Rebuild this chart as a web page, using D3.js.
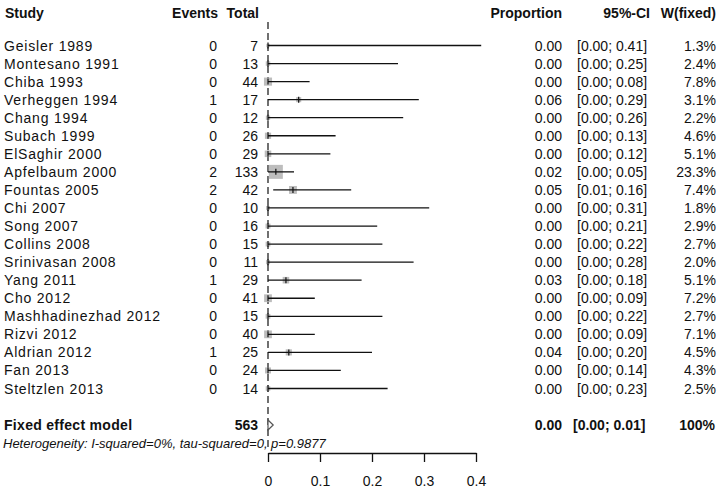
<!DOCTYPE html>
<html><head><meta charset="utf-8">
<script src="https://cdn.jsdelivr.net/npm/d3@7"></script>
<style>
html,body{margin:0;padding:0;background:#fff;}
svg{display:block;font-family:"Liberation Sans",Arial,sans-serif;}
</style></head>
<body><svg id="c" width="722" height="491"></svg>
<script>
const studies = ["Geisler 1989","Montesano 1991","Chiba 1993","Verheggen 1994","Chang 1994","Subach 1999","ElSaghir 2000","Apfelbaum 2000","Fountas 2005","Chi 2007","Song 2007","Collins 2008","Srinivasan 2008","Yang 2011","Cho 2012","Mashhadinezhad 2012","Rizvi 2012","Aldrian 2012","Fan 2013","Steltzlen 2013"];
const events = [0,0,0,1,0,0,0,2,2,0,0,0,0,1,0,0,0,1,0,0];
const totals = [7,13,44,17,12,26,29,133,42,10,16,15,11,29,41,15,40,25,24,14];
const proportion = [0,0,0,0.059,0,0,0,0.0151,0.048,0,0,0,0,0.0345,0,0,0,0.04,0,0];
const ciLower = [0,0,0,0,0,0,0,0,0.01,0,0,0,0,0,0,0,0,0,0,0];
const ciUpper = [0.41,0.25,0.08,0.29,0.26,0.13,0.12,0.05,0.16,0.31,0.21,0.22,0.28,0.18,0.09,0.22,0.09,0.20,0.14,0.23];
const weights = [1.3,2.4,7.8,3.1,2.2,4.6,5.1,23.3,7.4,1.8,2.9,2.7,2.0,5.1,7.2,2.7,7.1,4.5,4.3,2.5];
const pooled = {label:"Fixed effect model", total:563, est:0.00, lo:0.00, hi:0.01, w:"100%"};
const heterogeneity = "Heterogeneity: I-squared=0%, tau-squared=0, p=0.9877";
const tickValues = [0,0.1,0.2,0.3,0.4];
const tickLabels = ["0","0.1","0.2","0.3","0.4"];

const svg = d3.select("#c");
const x = d3.scaleLinear().domain([0,0.4]).range([268,476]);
const y = d3.scalePoint().domain(d3.range(studies.length)).range([45.5,388.5]);
const side = d3.scaleSqrt().domain([0,23.3]).range([0,14]);
const f2 = d3.format(".2f");
const fs = 14;

function txt(xp, yp, s, anchor, opts={}) {
  const t = svg.append("text").attr("x",xp).attr("y",yp).attr("dy","0.36em")
    .attr("text-anchor",anchor).attr("font-size",opts.size||fs)
    .attr("font-weight",opts.bold?"bold":"normal")
    .attr("font-style",opts.italic?"italic":"normal")
    .attr("fill","#111").text(s);
  if (opts.ls) t.attr("letter-spacing",opts.ls);
  return t;
}

// headers
const hy = 13;
txt(5,hy,"Study","start",{bold:true});
txt(218,hy,"Events","end",{bold:true});
txt(259,hy,"Total","end",{bold:true});
txt(562,hy,"Proportion","end",{bold:true});
txt(650,hy,"95%-CI","end",{bold:true});
txt(716,hy,"W(fixed)","end",{bold:true});

// dashed reference line at pooled estimate
svg.append("line").attr("x1",x(pooled.est)).attr("x2",x(pooled.est))
  .attr("y1",22).attr("y2",448).attr("stroke","#111").attr("stroke-width",1.2)
  .attr("stroke-dasharray","7,4");

// rows
studies.forEach((s,i)=>{
  const yy = y(i);
  txt(4,yy,s,"start",{ls:0.8});
  txt(217,yy,events[i],"end");
  txt(258,yy,totals[i],"end");
  txt(562,yy,f2(proportion[i]),"end");
  txt(577,yy,"["+f2(ciLower[i])+"; "+f2(ciUpper[i])+"]","start");
  txt(716,yy,weights[i].toFixed(1)+"%","end");
  const sd = side(weights[i]);
  svg.append("rect").attr("x",x(proportion[i])-sd/2).attr("y",yy-sd/2)
    .attr("width",sd).attr("height",sd).attr("fill","#bdbdbd");
  svg.append("line").attr("x1",x(ciLower[i])).attr("x2",x(ciUpper[i]))
    .attr("y1",yy).attr("y2",yy).attr("stroke","#111").attr("stroke-width",1.3);
  svg.append("line").attr("x1",x(proportion[i])).attr("x2",x(proportion[i]))
    .attr("y1",yy-3).attr("y2",yy+3).attr("stroke","#111").attr("stroke-width",1.2);
});

// pooled row
const py = 425;
txt(4,py,pooled.label,"start",{bold:true,ls:0.3});
txt(258,py,pooled.total,"end",{bold:true});
txt(562,py,f2(pooled.est),"end",{bold:true});
txt(573,py,"["+f2(pooled.lo)+"; "+f2(pooled.hi)+"]","start",{bold:true});
txt(715,py,pooled.w,"end",{bold:true});
const dh = 5;
svg.append("path").attr("d",
  `M${x(pooled.lo)},${py} L${x(pooled.est)},${py-dh} L${x(pooled.hi)},${py} L${x(pooled.est)},${py+dh} Z`)
  .attr("fill","#fff").attr("stroke","#555").attr("stroke-width",1.2);

txt(3,443,heterogeneity,"start",{italic:true,size:13});

// axis
const ax = svg.append("g").attr("transform","translate(0,453)")
  .call(d3.axisBottom(x).tickValues(tickValues).tickSize(9).tickSizeOuter(0)
    .tickFormat((d,i)=>tickLabels[i]));
ax.select(".domain").attr("stroke","#111").attr("stroke-width",1.3);
ax.selectAll(".tick line").attr("stroke","#111").attr("stroke-width",1.3);
ax.selectAll(".tick text").attr("font-size",fs).attr("fill","#111")
  .attr("font-family","Liberation Sans, Arial, sans-serif").attr("dy","0").attr("y",33);
</script></body></html>
